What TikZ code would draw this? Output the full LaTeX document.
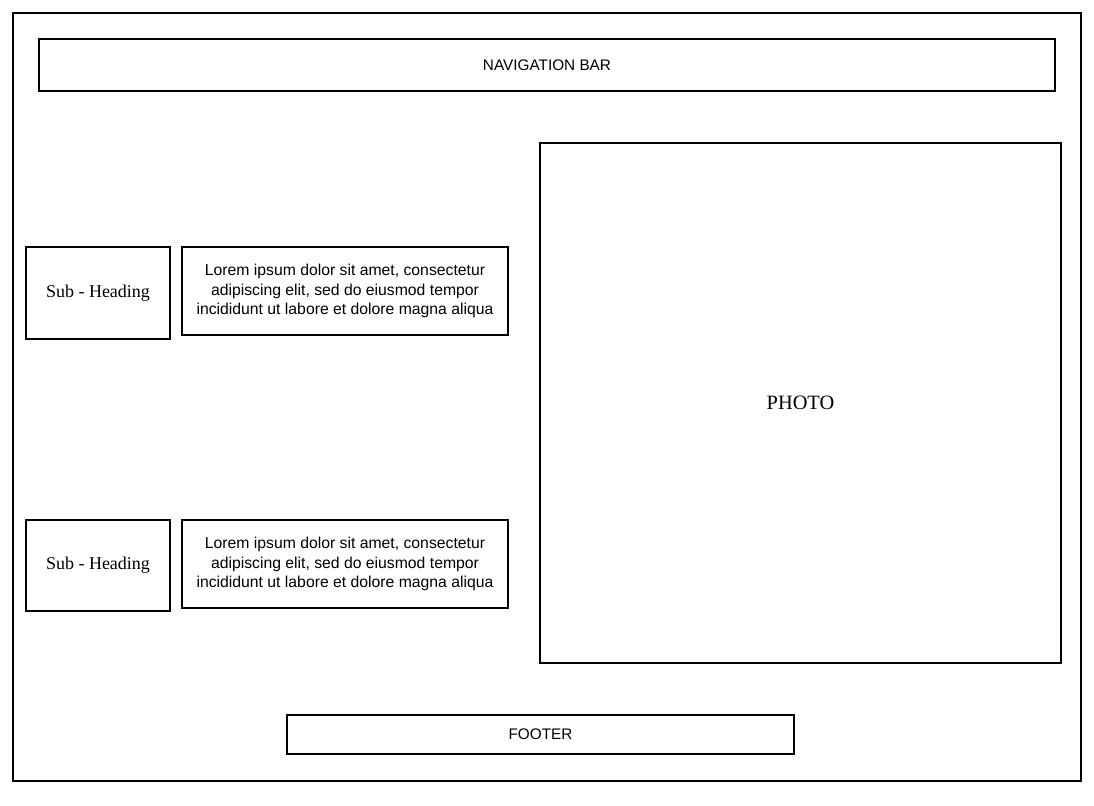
\documentclass[tikz,border=0pt]{standalone}
\usepackage{fontspec}
\setmainfont{Liberation Serif}
\setsansfont{Liberation Sans}
\usetikzlibrary{positioning}
\newcommand{\pu}{0.025cm}

\begin{document}
\begin{tikzpicture}[
x=0.025cm, y=-0.025cm,
box/.style={draw, line width=0.8pt, inner sep=0pt, align=center},
sans/.style={font=\sffamily\fontsize{10.9}{13.6}\selectfont},
lorem/.style={font=\sffamily\fontsize{11.2}{14}\selectfont},
serif/.style={font=\rmfamily\fontsize{12.8}{15}\selectfont}]

\useasboundingbox (0,0) rectangle (1094,805);

\node[box, minimum width=1068*\pu, minimum height=768*\pu] (page) at (547,397) {};
\node[box, sans, minimum width=1016*\pu, minimum height=52*\pu] (nav) at (547,65) {NAVIGATION BAR};
\node[box, font=\rmfamily\fontsize{14.5}{17}\selectfont, minimum width=521*\pu, minimum height=520*\pu] (photo) at (800.5,403) {PHOTO};

\node[box, serif, minimum width=144*\pu, minimum height=92*\pu] (sub1) at (98,293) {Sub - Heading};
\node[box, lorem, minimum width=326*\pu, minimum height=88*\pu] (text1) at (345,291)
  {Lorem ipsum dolor sit amet, consectetur\\adipiscing elit, sed do eiusmod tempor\\incididunt ut labore et dolore magna aliqua};

\node[box, serif, minimum width=144*\pu, minimum height=91*\pu] (sub2) at (98,565.5) {Sub - Heading};
\node[box, lorem, minimum width=326*\pu, minimum height=88*\pu] (text2) at (345,564)
  {Lorem ipsum dolor sit amet, consectetur\\adipiscing elit, sed do eiusmod tempor\\incididunt ut labore et dolore magna aliqua};

\node[box, sans, minimum width=507*\pu, minimum height=39*\pu] (footer) at (540.5,734.5) {FOOTER};
\end{tikzpicture}
\end{document}
